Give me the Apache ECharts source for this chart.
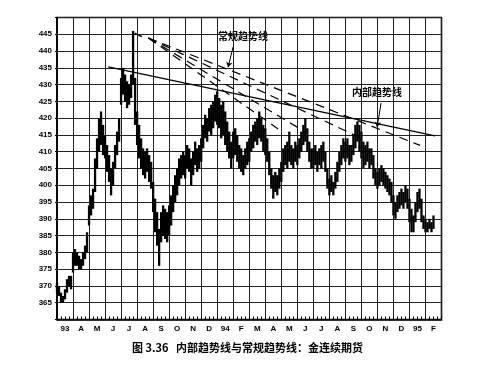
<!DOCTYPE html>
<html>
<head>
<meta charset="utf-8">
<script src="https://cdn.jsdelivr.net/npm/echarts@6/dist/echarts.min.js"></script>
<style>
html,body{margin:0;padding:0;background:#fff;}
#c{width:479px;height:376px;}
</style>
</head>
<body>
<div id="c"></div>
<script>
// Month labels (Mar 1993 .. Feb 1995)
const months = ['93','A','M','J','J','A','S','O','N','D','94','F','M','A','M','J','J','A','S','O','N','D','95','F'];
// Price bars: [position in months from Mar 1993, low, high]
const bars = [
[0.0,368,371],[0.125,367,370],[0.25,365,368],[0.375,365,367],[0.5,366,369],[0.625,368,372],[0.75,370,373],[0.875,369,373],
[1.0,374,380],[1.125,376,381],[1.25,376,380],[1.375,375,379],[1.5,375,378],[1.625,376,380],[1.75,378,382],[1.875,380,386],
[2.0,388,394],[2.125,391,397],[2.25,393,399],[2.375,398,408],[2.5,405,414],[2.625,410,420],[2.75,412,422],[2.875,409,418],
[3.0,408,415],[3.125,404,412],[3.25,401,409],[3.375,397,405],[3.5,400,407],[3.625,405,412],[3.75,409,416],[3.875,413,420],
[4.0,424,432],[4.125,427,435],[4.25,425,433],[4.375,423,431],[4.5,424,430],[4.625,426,433],[4.75,430,446],[4.875,418,432],
[5.0,412,422],[5.125,408,418],[5.25,405,414],[5.375,403,411],[5.5,402,410],[5.625,404,411],[5.75,401,409],[5.875,399,407],
[6.0,392,401],[6.125,386,396],[6.25,382,392],[6.375,376,387],[6.5,383,392],[6.625,385,394],[6.75,384,393],[6.875,383,392],
[7.0,385,394],[7.125,388,397],[7.25,392,400],[7.375,395,403],[7.5,397,405],[7.625,400,408],[7.75,402,409],[7.875,403,410],
[8.0,402,409],[8.125,405,412],[8.25,404,411],[8.375,400,408],[8.5,403,410],[8.625,406,413],[8.75,404,411],[8.875,405,412],
[9.0,407,414],[9.125,411,418],[9.25,414,421],[9.375,413,420],[9.5,416,423],[9.625,415,424],[9.75,417,425],[9.875,419,427],
[10.0,418,428],[10.125,417,426],[10.25,414,424],[10.375,415,425],[10.5,412,422],[10.625,410,419],[10.75,408,416],[10.875,405,413],
[11.0,408,416],[11.125,409,417],[11.25,407,415],[11.375,405,412],[11.5,404,411],[11.625,403,409],[11.75,405,411],[11.875,406,413],
[12.0,407,414],[12.125,410,416],[12.25,411,418],[12.375,413,419],[12.5,412,420],[12.625,414,422],[12.75,413,420],[12.875,410,418],
[13.0,409,417],[13.125,407,414],[13.25,403,410],[13.375,399,405],[13.5,396,403],[13.625,398,404],[13.75,397,403],[13.875,399,405],
[14.0,401,407],[14.125,404,411],[14.25,406,412],[14.375,405,413],[14.5,407,416],[14.625,406,412],[14.75,405,411],[14.875,407,413],
[15.0,406,412],[15.125,408,414],[15.25,410,416],[15.375,412,418],[15.5,413,420],[15.625,410,417],[15.75,407,413],[15.875,405,411],
[16.0,405,411],[16.125,406,412],[16.25,404,410],[16.375,406,411],[16.5,405,412],[16.625,407,413],[16.75,404,410],[16.875,399,405],
[17.0,397,402],[17.125,398,403],[17.25,397,401],[17.375,399,404],[17.5,401,407],[17.625,404,410],[17.75,406,412],[17.875,408,414],
[18.0,407,413],[18.125,408,414],[18.25,406,412],[18.375,407,412],[18.5,409,415],[18.625,411,418],[18.75,413,419],[18.875,410,418],
[19.0,408,416],[19.125,405,413],[19.25,406,412],[19.375,407,413],[19.5,405,411],[19.625,406,411],[19.75,402,409],[19.875,400,405],
[20.0,399,404],[20.125,400,405],[20.25,401,406],[20.375,400,405],[20.5,399,404],[20.625,398,403],[20.75,397,402],[20.875,395,401],
[21.0,391,397],[21.125,390,395],[21.25,392,397],[21.375,393,398],[21.5,394,399],[21.625,393,398],[21.75,395,400],[21.875,393,399],
[22.0,389,396],[22.125,386,393],[22.25,386,391],[22.375,389,395],[22.5,392,398],[22.625,393,399],[22.75,389,396],[22.875,387,391],
[23.0,386,390],[23.125,386,389],[23.25,387,390],[23.375,386,389],[23.5,387,391]
];
// Internal trend line (solid)
const internalTrend = [[3.20,435.3],[23.60,414.7]];
// Connector from the peak to the fan origin
const peakConnector = [[4.84,445.3],[5.30,444.3]];
// Conventional trend lines (dashed fan)
const fanStart = [5.70,443.9];
const fanEnds = [[22.66,411.9],[19.04,413.9],[15.49,415.9],[13.80,416.8]];
// Annotation pointers
const conventionalPointer = [[10.99,441.2],[10.68,435.2]];
const internalPointer = [[20.23,424.5],[19.98,417.4]];

const chart = echarts.init(document.getElementById('c'), null, {renderer:'canvas'});

const series = [];
series.push({
  type:'custom',
  xAxisIndex:0,
  data: bars,
  encode:{x:0, y:[1,2]},
  renderItem:function(params, api){
    const x = api.value(0);
    const a = api.coord([x, api.value(2)]);
    const b = api.coord([x, api.value(1)]);
    return {type:'line', shape:{x1:a[0],y1:a[1],x2:b[0],y2:b[1]}, style:{stroke:'#000', lineWidth:2.3}};
  },
  silent:true
});
series.push({type:'line', xAxisIndex:0, data:internalTrend, symbol:'none', lineStyle:{color:'#000', width:1.3}, silent:true});
series.push({type:'line', xAxisIndex:0, data:peakConnector, symbol:'none', lineStyle:{color:'#000', width:1.6}, silent:true});
fanEnds.forEach(function(e){
  series.push({type:'line', xAxisIndex:0, data:[fanStart, e], symbol:'none', lineStyle:{color:'#000', width:1.2, type:[9,6]}, silent:true});
});
series.push({
  type:'line', xAxisIndex:0, data:[], symbol:'none',
  markLine:{
    silent:true, symbol:['none','arrow'], symbolSize:5, label:{show:false},
    lineStyle:{color:'#000', width:1, type:'solid'},
    data:[
      [{coord:conventionalPointer[0]},{coord:conventionalPointer[1]}],
      [{coord:internalPointer[0]},{coord:internalPointer[1]}]
    ]
  }
});

chart.setOption({
  animation:false,
  backgroundColor:'#fff',
  grid:{left:57, right:37.5, top:17.5, bottom:56.5, show:true, borderColor:'#000', borderWidth:1.6},
  xAxis:[
    {type:'value', min:0, max:24, interval:1, position:'bottom',
     axisLine:{show:true, lineStyle:{color:'#000', width:1.6}},
     axisTick:{show:true, inside:true, length:3, lineStyle:{color:'#000'}},
     minorTick:{show:true, splitNumber:4, length:3, lineStyle:{color:'#000'}},
     axisLabel:{show:false},
     splitLine:{show:true, lineStyle:{color:'#222', width:1}}},
    {type:'category', data:months, position:'bottom', boundaryGap:true,
     axisLine:{show:false}, axisTick:{show:false}, splitLine:{show:false},
     axisLabel:{interval:0, margin:5, color:'#000', fontSize:8, fontWeight:'bold', fontFamily:'Liberation Sans, Arial, sans-serif'}}
  ],
  yAxis:{type:'value', min:360, max:450, interval:5,
    axisLine:{show:true, lineStyle:{color:'#000', width:1.6}},
    axisTick:{show:true, length:2, lineStyle:{color:'#000'}},
    axisLabel:{margin:5, color:'#000', fontSize:8, fontWeight:'bold', fontFamily:'Liberation Sans, Arial, sans-serif',
      formatter:function(v){ return (v===360||v===450)?'':String(v); }},
    splitLine:{show:true, lineStyle:{color:'#222', width:1}}},
  series: series,
  graphic:[
    {type:'text', left:218, top:31, style:{text:'常规趋势线', font:'bold 10px "Noto Sans CJK SC"', fill:'#000'}},
    {type:'text', left:352, top:87, style:{text:'内部趋势线', font:'bold 10px "Noto Sans CJK SC"', fill:'#000'}},
    {type:'text', left:132, top:342, style:{text:'图 3.36   内部趋势线与常规趋势线：金连续期货', font:'bold 11px "Noto Sans CJK SC"', fill:'#000'}}
  ]
});
</script>
</body>
</html>
